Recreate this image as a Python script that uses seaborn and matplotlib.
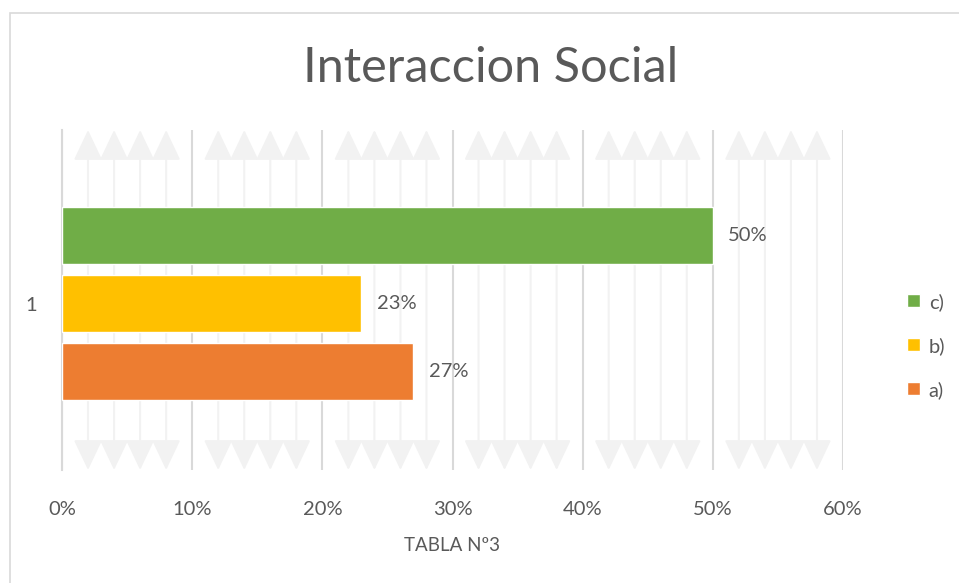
import pandas as pd
import numpy as np
import seaborn as sns
import matplotlib.pyplot as plt
from matplotlib.patches import Rectangle
from matplotlib.ticker import PercentFormatter, MultipleLocator, FixedLocator

# Data
grupos = ['1', '1', '1']
opciones = ['c)', 'b)', 'a)']
valores = [0.50, 0.23, 0.27]
colores = ['#70AD47', '#FFC000', '#ED7D31']

df = pd.DataFrame({'grupo': grupos, 'opcion': opciones, 'valor': valores})

sns.set_theme(style='white')
plt.rcParams['font.family'] = ['Lato', 'DejaVu Sans']
txt = '#595959'
grid = '#d9d9d9'

fig = plt.figure(figsize=(9.59, 5.83), dpi=100, facecolor='white')
# chart area border
fig.add_artist(Rectangle((10 / 959, -0.1), 1.2, 1 - 13 / 583 + 0.1, transform=fig.transFigure,
                         fill=False, edgecolor=grid, linewidth=1.2))

ax = fig.add_axes([62 / 959, 1 - 470 / 583, (843 - 62) / 959, 340 / 583])

# decorative minor gridlines with arrow heads
for x in np.arange(0.02, 0.60, 0.02):
    if round(x * 100) % 10 == 0:
        continue
    ax.annotate('', xy=(x, 1), xytext=(x, 0), xycoords=('data', 'axes fraction'),
                textcoords=('data', 'axes fraction'),
                arrowprops=dict(arrowstyle='<|-|>,head_length=19,head_width=9', mutation_scale=1,
                                color='#f2f2f2', linewidth=1.5, shrinkA=0, shrinkB=0),
                zorder=0.5)

sns.barplot(data=df, x='valor', y='grupo', hue='opcion', hue_order=opciones,
            palette=colores, orient='h', width=0.8, gap=0.16, saturation=1,
            ax=ax, zorder=3)

for cont, v in zip(ax.containers, valores):
    ax.bar_label(cont, labels=[f'{v:.0%}'], padding=11, fontsize=14.5, color=txt)

ax.set_xlim(0, 0.6)
ax.set_ylim(2 / 3 - 0.014, -2 / 3 - 0.014)
ax.xaxis.set_major_locator(MultipleLocator(0.1))
ax.xaxis.set_major_formatter(PercentFormatter(1, decimals=0))
ax.grid(axis='x', color=grid, linewidth=1.5, zorder=0)
ax.set_axisbelow(True)
for s in ['top', 'right', 'bottom']:
    ax.spines[s].set_visible(False)
ax.spines['left'].set_color(grid)
ax.spines['left'].set_linewidth(1.5)

ax.tick_params(axis='x', length=0, pad=22, labelsize=14.5, labelcolor=txt)
ax.tick_params(axis='y', which='major', length=0, pad=18, labelsize=14.5, labelcolor=txt)
ax.yaxis.set_minor_locator(FixedLocator([-2 / 3 - 0.014, 2 / 3 - 0.014]))
ax.tick_params(axis='y', which='minor', length=6, width=1.5, color=grid)

ax.set_ylabel('')
ax.set_xlabel('TABLA Nº3', fontsize=13.5, color=txt, labelpad=14)

handles, labels = ax.get_legend_handles_labels()
ax.legend(handles, labels, loc='center left', bbox_to_anchor=(889 / 959, 1 - 346 / 583),
          bbox_transform=fig.transFigure, frameon=False, fontsize=14.5, labelcolor=txt,
          handlelength=0.62, handleheight=0.62, handletextpad=0.45, labelspacing=1.3)

fig.text(491 / 959, 1 - 68 / 583, 'Interaccion Social', ha='center', va='center',
         fontsize=35, color=txt, fontweight='normal')

plt.savefig('out.png', dpi=100, facecolor='white')
